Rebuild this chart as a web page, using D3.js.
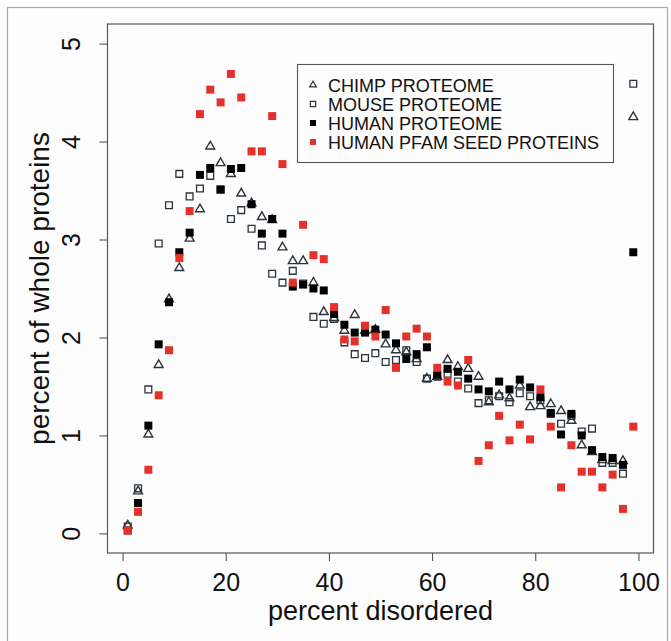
<!DOCTYPE html>
<html><head><meta charset="utf-8">
<script src="https://cdn.jsdelivr.net/npm/d3@7"></script>
<style>body{margin:0;background:#fdfdfd}</style>
</head><body><svg id="c" width="671" height="641"></svg>
<script>
// percent disordered (bin centres)
const xValues = [1,3,5,7,9,11,13,15,17,19,21,23,25,27,29,31,33,35,37,39,41,43,45,47,49,51,53,55,57,59,61,63,65,67,69,71,73,75,77,79,81,83,85,87,89,91,93,95,97,99];
const chimp = [0.08,0.43,1.01,1.72,2.39,2.71,3.01,3.31,3.95,3.78,3.67,3.47,3.37,3.23,3.20,2.92,2.78,2.78,2.56,2.26,2.20,2.07,2.23,2.07,2.08,1.93,1.87,1.85,1.78,1.58,1.60,1.77,1.70,1.68,1.60,1.34,1.41,1.38,1.51,1.29,1.30,1.32,1.25,1.15,0.90,0.83,0.75,0.74,0.74,4.25];
const mouse = [0.07,0.46,1.47,2.96,3.35,3.67,3.44,3.52,3.65,3.51,3.21,3.30,3.11,2.94,2.65,2.56,2.68,2.55,2.21,2.14,2.19,1.95,1.83,1.79,1.84,1.75,1.77,1.87,1.75,1.58,1.60,1.63,1.55,1.48,1.33,1.36,1.40,1.34,1.43,1.40,1.36,1.22,1.12,1.20,1.04,1.07,0.72,0.72,0.61,4.59];
const human = [0.03,0.31,1.10,1.93,2.36,2.87,3.07,3.66,3.73,3.51,3.72,3.73,3.36,3.06,3.21,3.06,2.52,2.54,2.50,2.48,2.24,2.13,2.05,2.05,2.08,2.03,1.94,1.78,1.83,1.90,1.62,1.68,1.65,1.58,1.47,1.45,1.55,1.47,1.57,1.49,1.39,1.23,1.01,1.22,1.00,0.85,0.78,0.77,0.70,2.87];
const pfam = [0.03,0.22,0.65,1.41,1.87,2.81,3.29,4.28,4.53,4.40,4.69,4.45,3.90,3.90,4.26,3.77,2.56,3.15,2.84,2.80,2.31,1.98,1.96,2.12,2.01,2.28,1.69,2.01,2.09,2.01,1.69,1.55,1.51,1.77,0.74,0.90,1.20,0.95,1.11,0.96,1.47,1.09,0.47,0.90,0.63,0.63,0.47,0.60,0.25,1.09];
const xTicks = [0,20,40,60,80,100];
const yTicks = [0,1,2,3,4,5];
const legendLabels = ["CHIMP PROTEOME","MOUSE PROTEOME","HUMAN PROTEOME","HUMAN PFAM SEED PROTEINS"];
const xTitle = "percent disordered";
const yTitle = "percent of whole proteins";

const FONT = "'Liberation Sans', Arial, Helvetica, sans-serif";
const RED = "#e4322b", INK = "#2b343c";
const svg = d3.select("#c");
const L = 107.5, R = 653.5, T = 24, B = 553;

// outer frame
svg.append("rect").attr("x",7.5).attr("y",7.5).attr("width",660).attr("height",650)
  .attr("fill","#fdfdfd").attr("stroke","#a9a9a9").attr("stroke-width",1.2);

const x = d3.scaleLinear().domain([-2.92, 102.92]).range([L, R]);
const y = d3.scaleLinear().domain([-0.2, 5.2]).range([B, T]);

// axes
const gx = svg.append("g").attr("transform",`translate(0,${B})`)
  .call(d3.axisBottom(x).tickValues(xTicks).tickFormat(d3.format("d")).tickSize(8));
gx.select(".domain").remove();
gx.selectAll("line").attr("stroke","#444");
gx.selectAll("text").attr("y",38).attr("dy",null).attr("fill","#111")
  .style("font-family",FONT).style("font-size","25px");

const gy = svg.append("g").attr("transform",`translate(${L},0)`)
  .call(d3.axisLeft(y).tickValues(yTicks).tickFormat(d3.format("d")).tickSize(8));
gy.select(".domain").remove();
gy.selectAll("line").attr("stroke","#444");
gy.selectAll("text").attr("x",null).attr("dy",null).attr("text-anchor","middle")
  .attr("transform","translate(-28,0) rotate(-90)").attr("fill","#111")
  .style("font-family",FONT).style("font-size","25px");

// plot box
svg.append("rect").attr("x",L).attr("y",T).attr("width",R-L).attr("height",B-T)
  .attr("fill","none").attr("stroke","#555").attr("stroke-width",1.2);

// titles
svg.append("text").attr("x",(L+R)/2).attr("y",620).attr("text-anchor","middle")
  .style("font-family",FONT).style("font-size","27px").attr("fill","#111").text(xTitle);
svg.append("text").attr("transform",`translate(49,${(T+B)/2}) rotate(-90)`).attr("text-anchor","middle")
  .style("font-family",FONT).style("font-size","28px").attr("fill","#111").text(yTitle);

// symbols
const tri = d3.symbol().type(d3.symbolTriangle).size(34);
const sq = d3.symbol().type(d3.symbolSquare).size(64);
const osq = d3.symbol().type(d3.symbolSquare).size(46);

function series(vals, gen, fill, stroke, sw){
  svg.append("g").selectAll("path").data(vals).join("path")
    .attr("d", gen)
    .attr("transform",(d,i)=>`translate(${x(xValues[i])},${y(d)})`)
    .attr("fill",fill).attr("stroke",stroke).attr("stroke-width",sw);
}
series(mouse, osq, "none", INK, 1.3);
series(chimp, tri, "none", INK, 1.4);
series(human, sq, "#000", "none", 0);
series(pfam, sq, RED, "none", 0);

// legend
svg.append("rect").attr("x",297.5).attr("y",64.5).attr("width",316).attr("height",98)
  .attr("fill","#fdfdfd").attr("stroke","#555").attr("stroke-width",1.1);
const ly = [86, 105, 124, 143];
const lsym = [d3.symbol().type(d3.symbolTriangle).size(20), d3.symbol().type(d3.symbolSquare).size(28),
              d3.symbol().type(d3.symbolSquare).size(36), d3.symbol().type(d3.symbolSquare).size(36)];
const lfill = ["none","none","#000",RED], lstroke = [INK,INK,"none","none"];
legendLabels.forEach((t,i)=>{
  svg.append("path").attr("d",lsym[i]).attr("transform",`translate(313,${ly[i]-1})`)
    .attr("fill",lfill[i]).attr("stroke",lstroke[i]).attr("stroke-width",1.2);
  svg.append("text").attr("x",328).attr("y",ly[i]+5.5)
    .style("font-family",FONT).style("font-size","18px").attr("fill","#111").text(t);
});
</script></body></html>
